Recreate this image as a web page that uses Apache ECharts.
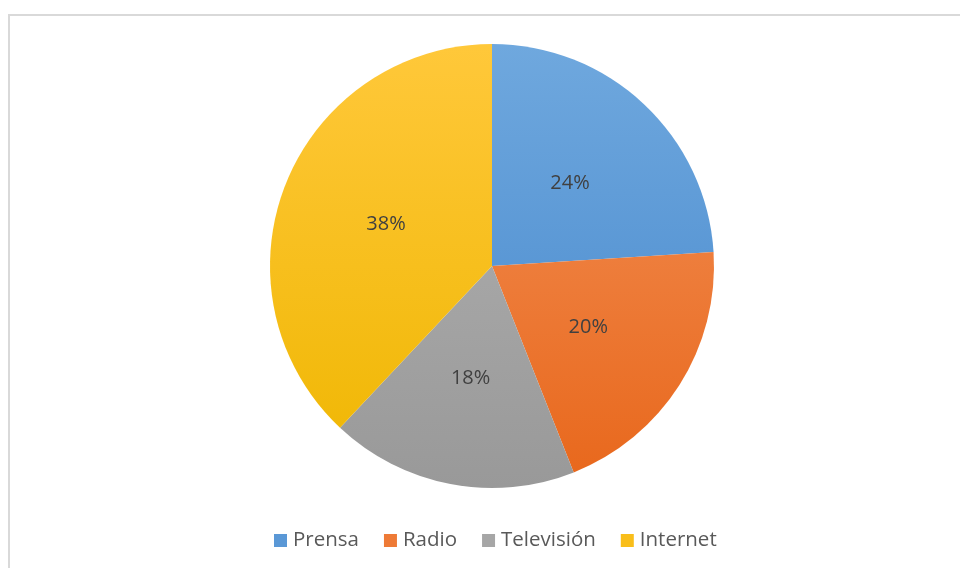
<!DOCTYPE html>
<html>
<head>
<meta charset="utf-8">
<script src="https://cdn.jsdelivr.net/npm/echarts@6/dist/echarts.min.js"></script>
<style>
html,body{margin:0;padding:0;background:#fff;}
#frame{position:absolute;left:8px;top:14px;width:960px;height:560px;border-left:2px solid #d9d9d9;border-top:2px solid #d9d9d9;box-sizing:border-box;}
#chart{position:absolute;left:0;top:0;width:960px;height:568px;}
</style>
</head>
<body>
<div id="frame"></div>
<div id="chart"></div>
<script>
const categories = ['Prensa', 'Radio', 'Televisión', 'Internet'];
const values = [24, 20, 18, 38];
const topColors = ['#6fa8de', '#f3925a', '#b3b3b3', '#ffc83a'];
const bottomColors = ['#4587cc', '#e8671b', '#999999', '#efb600'];
const legendColors = ['#5a98d6', '#ee7a36', '#a6a6a6', '#f9be1a'];

const chart = echarts.init(document.getElementById('chart'), null, {renderer: 'canvas'});
const cx = 492, cy = 266, r = 222;
const data = categories.map((c, i) => ({
  name: c,
  value: values[i],
  itemStyle: {
    color: {
      type: 'linear', x: 0, y: cy - r, x2: 0, y2: cy + r, global: true,
      colorStops: [{offset: 0, color: topColors[i]}, {offset: 1, color: bottomColors[i]}]
    }
  }
}));
chart.setOption({
  animation: false,
  legend: {
    bottom: 12,
    left: 269,
    itemWidth: 13,
    itemHeight: 13,
    itemGap: 25,
    icon: 'rect',
    textStyle: {color: '#595959', fontSize: 20.5, fontFamily: 'Open Sans, Liberation Sans, sans-serif', padding: [0, 0, 0, 1]},
    data: categories.map((c, i) => ({name: c, itemStyle: {color: legendColors[i]}}))
  },
  series: [{
    type: 'pie',
    center: [cx, cy],
    radius: r,
    startAngle: 90,
    clockwise: true,
    avoidLabelOverlap: false,
    label: {
      show: true,
      position: 'inside',
      formatter: '{d}%',
      color: '#404040',
      fontSize: 20,
      fontFamily: 'Open Sans, Liberation Sans, sans-serif'
    },
    labelLine: {show: false},
    itemStyle: {borderWidth: 0},
    emphasis: {disabled: true},
    data: data
  }]
});
</script>
</body>
</html>
